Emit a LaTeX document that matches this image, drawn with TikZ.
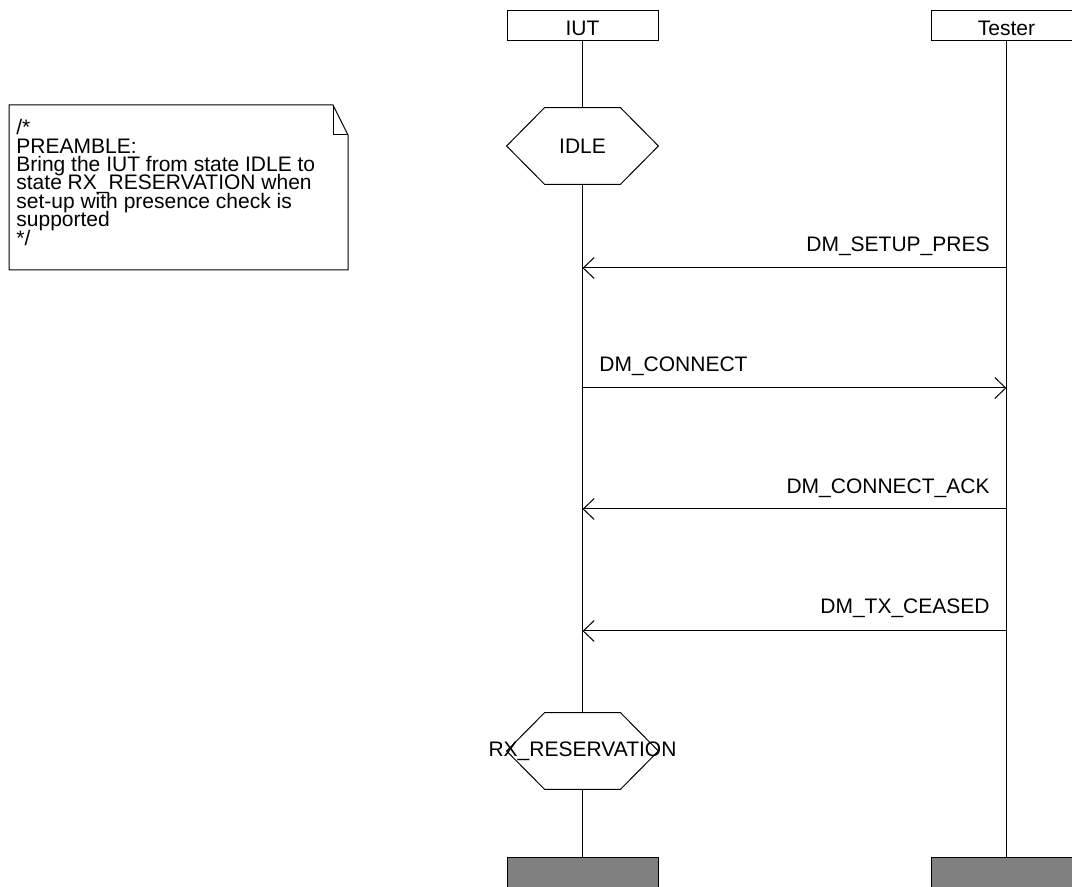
\documentclass[tikz,border=0pt]{standalone}
\usepackage{fontspec}
\setmainfont{Liberation Sans}
\usepackage{tikz}
\usetikzlibrary{positioning}
\usetikzlibrary{calc, arrows.meta}
\tikzstyle{instance} = [rectangle, draw=black, line width=0.5pt, minimum width=75.5pt, minimum height=15pt, inner sep=0pt, text height=10pt, text depth=0pt, fill=white]
\tikzstyle{stopbox} = [rectangle, draw=black, line width=0.5pt, minimum width=75.5pt, minimum height=15pt, inner sep=0pt, fill=gray]
\tikzstyle{state} = [rectangle, minimum width=75.5pt, minimum height=38pt, inner sep=0pt]
\tikzstyle{msg} = [line width=0.5pt, -{Straight Barb[length=5.5pt, width=10.5pt]}]
\tikzstyle{msglabel} = [inner sep=0pt]
\def\hexa(#1){\path[draw, line width=0.5pt] (#1.west)--($(#1.north west)+(38,0)$)--($(#1.north east)+(-38,0)$)--(#1.east)--($(#1.south east)+(-38,0)$)--($(#1.south west)+(38,0)$)--cycle;}
\newcommand{\notefont}{\fontsize{10.5}{9.2}\selectfont\lineskiplimit=-10pt\relax}

\begin{document}
\begin{tikzpicture}[x=0.5pt, y=-0.5pt, every node/.style={font=\fontsize{10.5}{9}\selectfont}]
\useasboundingbox (0,0) rectangle (1072,887);
% comment box
\path[draw, line width=0.5pt] (9,105)--(333,105)--(348,135)--(348,270)--(9,270)--cycle;
\path[draw, line width=0.5pt] (333,105)--(333,135)--(348,135);
\node[anchor=north west, align=left, inner sep=0pt, font=\notefont] (note) at (16,119) {/*\\PREAMBLE:\\Bring the IUT from state IDLE to\\state RX\_RESERVATION when\\set-up with presence check is\\supported\\*/};
% instances
\node[instance] (iut) at (582.5,26) {IUT};
\node[instance] (tester) at (1006.5,26) {Tester};
\node[state] (idle) at (582.5,146) {IDLE};
\node[state] (rx) at (582.5,751) {\makebox[0pt]{RX\_RESERVATION}};
\hexa(idle)
\hexa(rx)
\node[stopbox] (iutend) at (582.5,872) {};
\node[stopbox] (testerend) at (1006.5,872) {};
\path[draw, line width=0.5pt] (iut)--(idle);
\path[draw, line width=0.5pt] (idle)--(rx);
\path[draw, line width=0.5pt] (rx)--(iutend);
\path[draw, line width=0.5pt] (tester)--(testerend);
% messages
\coordinate (t1) at (1006.5,268);
\coordinate (i1) at (582.5,268);
\coordinate (i2) at (582.5,388);
\coordinate (t2) at (1006.5,388);
\coordinate (t3) at (1006.5,509);
\coordinate (i3) at (582.5,509);
\coordinate (t4) at (1006.5,631);
\coordinate (i4) at (582.5,631);
\draw[msg] (t1)--(i1);
\draw[msg] (i2)--(t2);
\draw[msg] (t3)--(i3);
\draw[msg] (t4)--(i4);
\node[msglabel, anchor=base east] (setup) at (990,252) {DM\_SETUP\_PRES};
\node[msglabel, anchor=base west] (connect) at (599,372) {DM\_CONNECT};
\node[msglabel, anchor=base east] (connectack) at (990,494) {DM\_CONNECT\_ACK};
\node[msglabel, anchor=base east] (ceased) at (990,614) {DM\_TX\_CEASED};
\end{tikzpicture}
\end{document}
